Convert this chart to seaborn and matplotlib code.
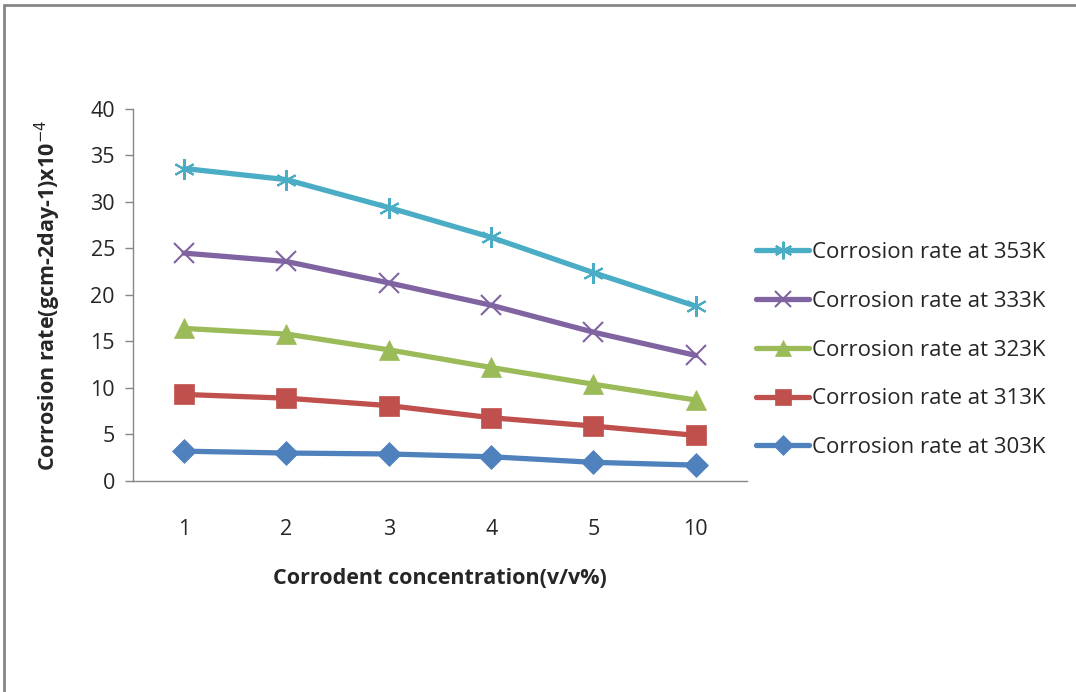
"""
Corrosion rate vs corrodent concentration at five temperatures
"""

import matplotlib
matplotlib.use("Agg")
import matplotlib.pyplot as plt
import seaborn as sns
import pandas as pd

sns.set_style("white")
plt.rcParams['font.family'] = ['Open Sans', 'DejaVu Sans']

# Data
concentrations = ["1", "2", "3", "4", "5", "10"]
rate_303K = [3.2, 3.0, 2.9, 2.6, 2.0, 1.7]
rate_313K = [9.3, 8.9, 8.1, 6.8, 5.9, 4.9]
rate_323K = [16.4, 15.8, 14.1, 12.2, 10.4, 8.7]
rate_333K = [24.5, 23.6, 21.3, 18.9, 16.0, 13.5]
rate_353K = [33.6, 32.4, 29.4, 26.2, 22.4, 18.8]

series_names = ["Corrosion rate at 353K", "Corrosion rate at 333K",
                "Corrosion rate at 323K", "Corrosion rate at 313K",
                "Corrosion rate at 303K"]
series_values = [rate_353K, rate_333K, rate_323K, rate_313K, rate_303K]
colors = ["#4BACC6", "#8064A2", "#9BBB59", "#C0504D", "#4F81BD"]
markers = [(6, 2, 0), "x", "^", "s", "D"]
marker_sizes = [15, 14, 14, 14, 12]

rows = []
for name, vals in zip(series_names, series_values):
    for c, v in zip(concentrations, vals):
        rows.append({"conc": c, "rate": v, "series": name})
df = pd.DataFrame(rows)

fig = plt.figure(figsize=(10.76, 6.92), dpi=100)
ax = fig.add_axes([0.1236, 0.305, 0.5706, 0.5375])

for name, color, mk, ms in zip(series_names, colors, markers, marker_sizes):
    sub = df[df["series"] == name]
    thin = mk in ["x", (6, 2, 0)]
    sns.lineplot(data=sub, x="conc", y="rate", ax=ax, color=color,
                 marker=mk, markersize=ms, linewidth=3.8,
                 markeredgecolor=color, markeredgewidth=1.5 if thin else 0.5,
                 label=name, sort=False)

ax.set_xlim(-0.5, len(concentrations) - 0.5)
ax.set_ylim(0, 40)
ax.set_yticks(range(0, 41, 5))

for side in ["top", "right"]:
    ax.spines[side].set_visible(False)
for side in ["left", "bottom"]:
    ax.spines[side].set_color("#868686")
    ax.spines[side].set_linewidth(1.0)

ax.tick_params(axis='y', which='both', left=True, length=6, width=1,
               color="#868686", pad=7, labelsize=15.5)
ax.tick_params(axis='x', bottom=False, pad=24, labelsize=15.5)

ax.set_xlabel("Corrodent concentration(v/v%)", fontsize=15.5, fontweight='bold', labelpad=20)
ax.set_ylabel("Corrosion rate(gcm-2day-1)x10$^{-4}$", fontsize=15.5, fontweight='bold', labelpad=20)

ax.legend(loc='center left', bbox_to_anchor=(0.684, 0.494), bbox_transform=fig.transFigure,
          frameon=False, fontsize=16, handlelength=2.4, handletextpad=0.1,
          labelspacing=1.25, markerscale=0.85)

# Outer chart frame (only left and top edges visible in the original)
fig.add_artist(plt.Line2D([0.004, 0.004], [0, 0.993], color="#868686", linewidth=2,
                          transform=fig.transFigure))
fig.add_artist(plt.Line2D([0.004, 1.0], [0.993, 0.993], color="#868686", linewidth=2,
                          transform=fig.transFigure))

plt.savefig("out.png", dpi=100)
